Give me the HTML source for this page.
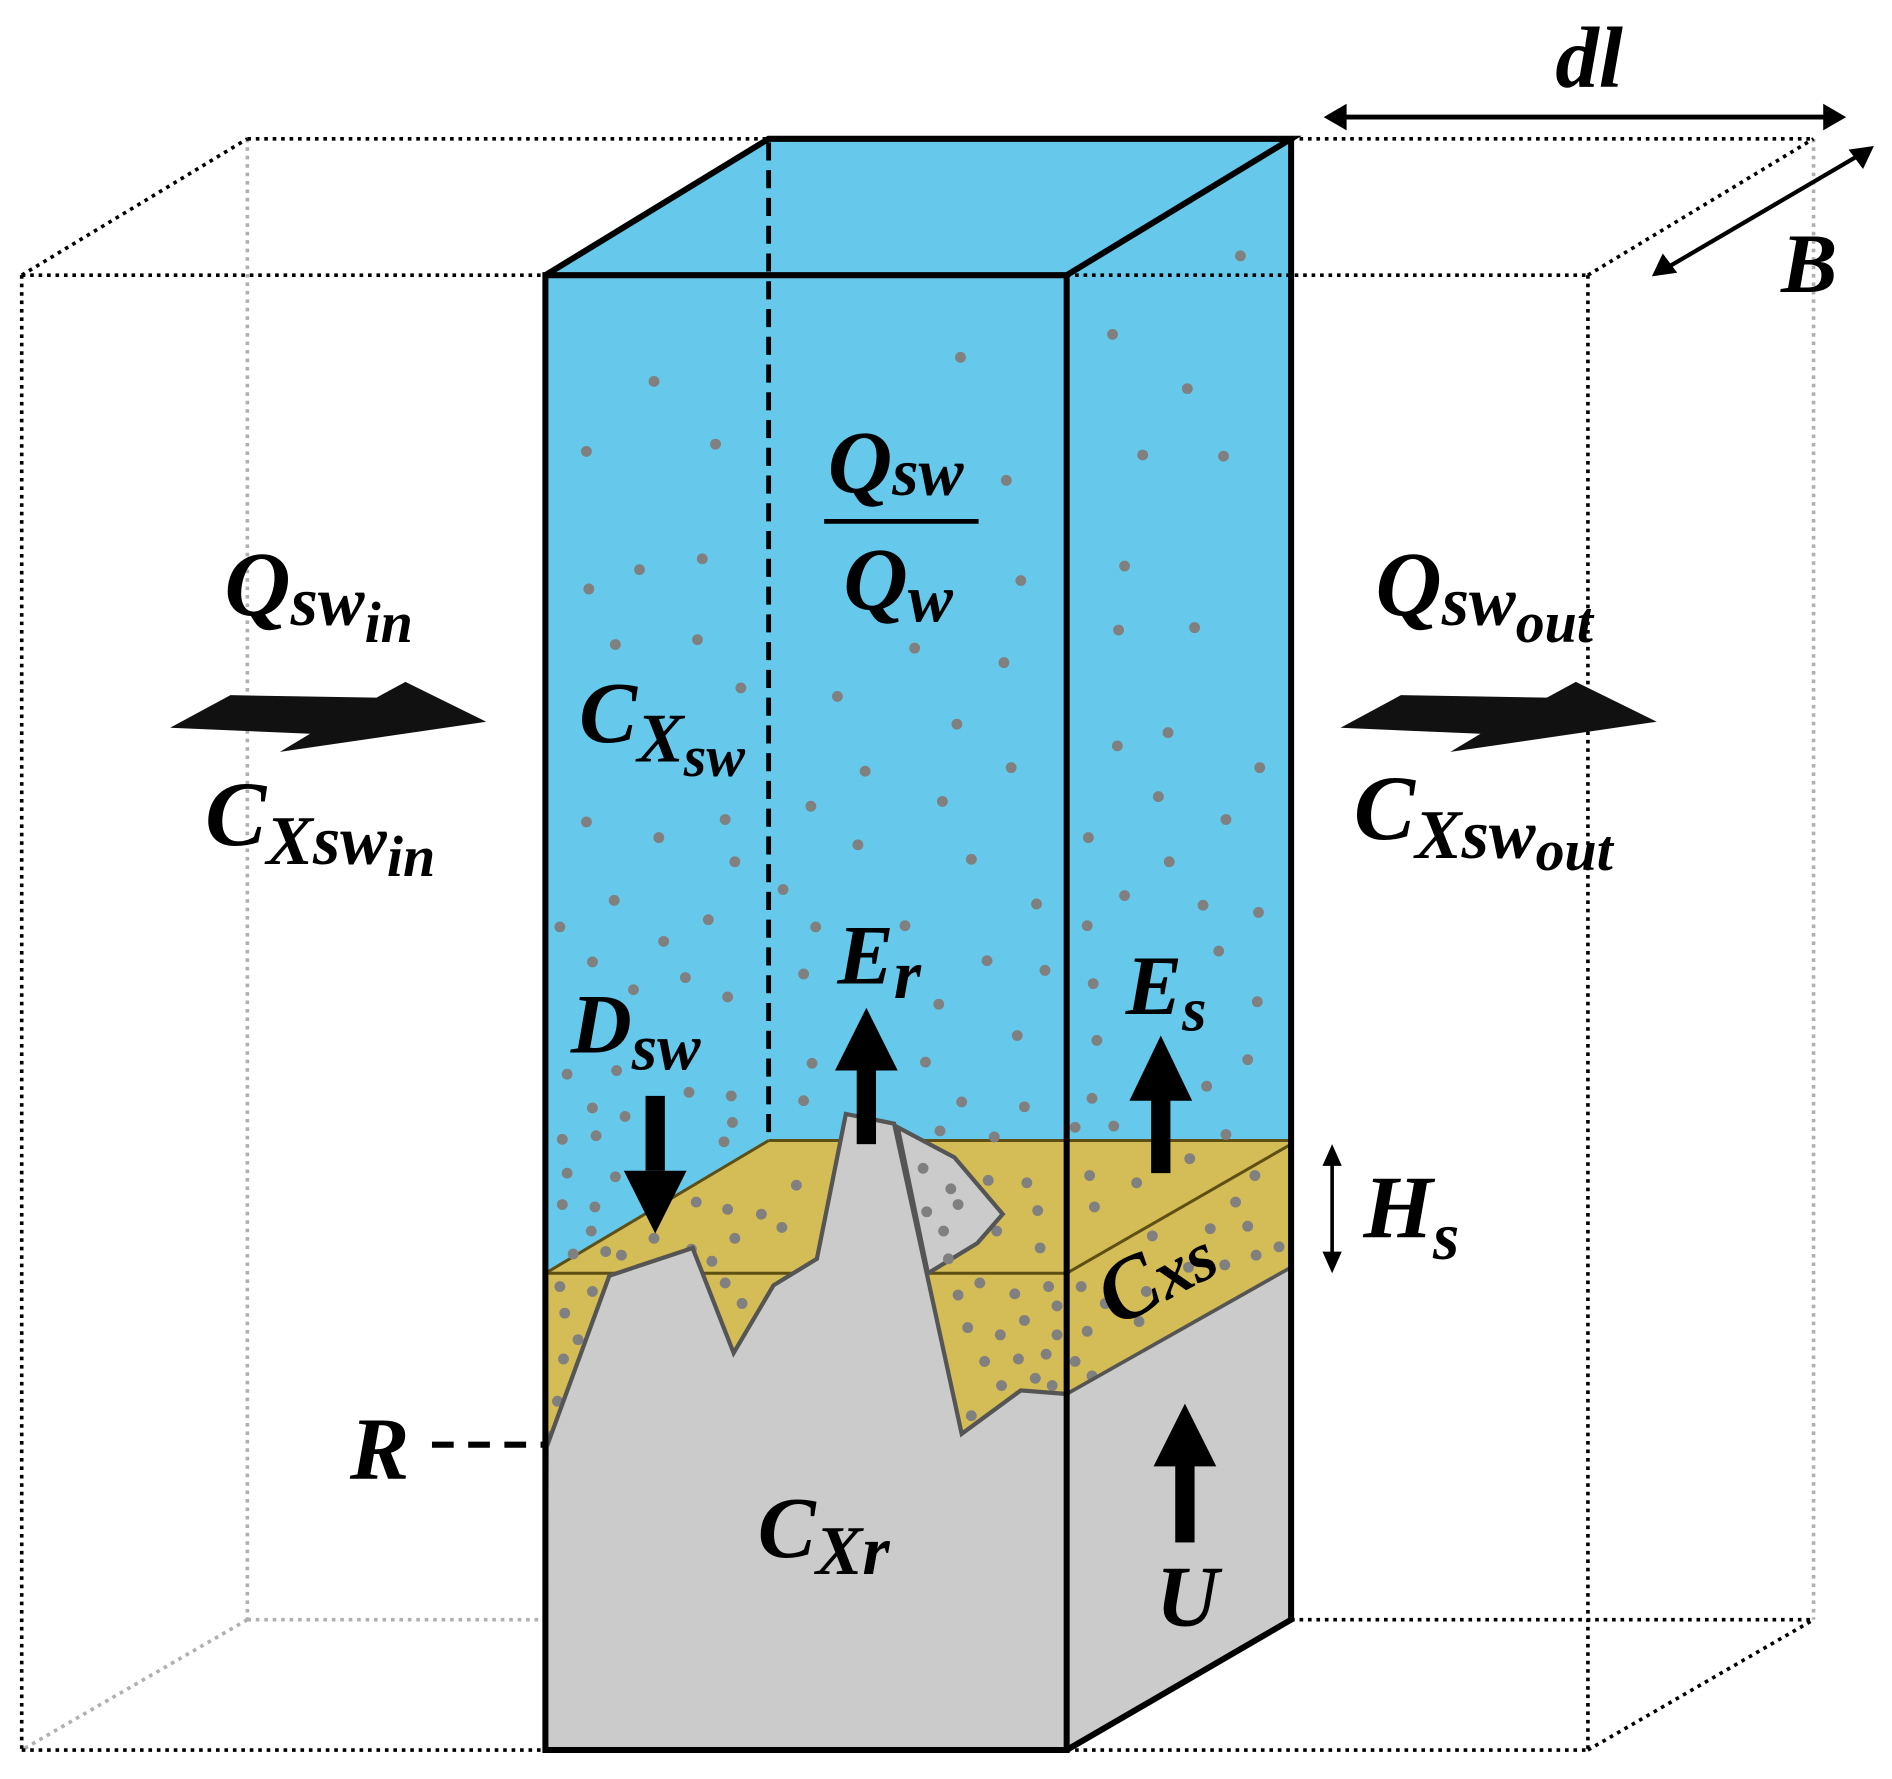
<!DOCTYPE html>
<html><head><meta charset="utf-8"><style>
html,body{margin:0;padding:0;background:#fff;}
svg{display:block;}
text{font-family:"Liberation Serif",serif;font-weight:bold;font-style:italic;fill:#000;}
</style></head><body>
<svg width="1892" height="1779" viewBox="0 0 1568 1474" preserveAspectRatio="none" xmlns="http://www.w3.org/2000/svg">
<g fill="none" stroke="#b0b0b0" stroke-width="3" stroke-dasharray="3,4">
<line x1="205" y1="115" x2="205" y2="1342"/>
<line x1="205" y1="1342" x2="452" y2="1342"/>
<line x1="205" y1="1342" x2="18" y2="1450"/>
<line x1="1503" y1="115" x2="1503" y2="1342"/>
</g>
<g fill="none" stroke="#000" stroke-width="3" stroke-dasharray="3,4">
<line x1="18" y1="228" x2="18" y2="1450"/>
<line x1="18" y1="1450" x2="452" y2="1450"/>
<line x1="884" y1="1450" x2="1316" y2="1450"/>
<line x1="1316" y1="228" x2="1316" y2="1450"/>
<line x1="1316" y1="1450" x2="1503" y2="1342"/>
<line x1="1070" y1="1342" x2="1503" y2="1342"/>
<line x1="18" y1="228" x2="205" y2="115"/>
<line x1="205" y1="115" x2="637" y2="115"/>
<line x1="1070" y1="115" x2="1503" y2="115"/>
<line x1="1316" y1="228" x2="1503" y2="115"/>
<line x1="18" y1="228" x2="452" y2="228"/>
<line x1="884" y1="228" x2="1316" y2="228"/>
</g>
<polygon points="452,228 637,115 1070,115 1070,1342 884,1450 452,1450" fill="#66C9EC"/>
<line x1="884" y1="228" x2="1070" y2="228" stroke="#000" stroke-width="3" stroke-dasharray="3,4"/>
<polygon points="452,1055 637,945 1070,945 1070,1050 884,1155 884,1450 452,1450" fill="#D4BC56"/>
<line x1="637" y1="945" x2="1070" y2="945" stroke="#5e4f14" stroke-width="2.5"/>
<line x1="452" y1="1055" x2="637" y2="945" stroke="#5e4f14" stroke-width="2.5"/>
<line x1="452" y1="1055" x2="884" y2="1055" stroke="#5e4f14" stroke-width="2.5"/>
<line x1="884" y1="1055" x2="1070" y2="948" stroke="#5e4f14" stroke-width="2.5"/>
<g fill="#808080">
<circle cx="542" cy="316" r="4.5"/><circle cx="796" cy="296" r="4.5"/><circle cx="922" cy="277" r="4.5"/><circle cx="984" cy="322" r="4.5"/><circle cx="1028" cy="212" r="4.5"/>
<circle cx="486" cy="374" r="4.5"/><circle cx="593" cy="368" r="4.5"/><circle cx="834" cy="398" r="4.5"/><circle cx="947" cy="377" r="4.5"/><circle cx="1014" cy="378" r="4.5"/>
<circle cx="488" cy="488" r="4.5"/><circle cx="530" cy="472" r="4.5"/><circle cx="582" cy="463" r="4.5"/><circle cx="846" cy="481" r="4.5"/><circle cx="932" cy="469" r="4.5"/><circle cx="927" cy="522" r="4.5"/><circle cx="990" cy="520" r="4.5"/>
<circle cx="510" cy="534" r="4.5"/><circle cx="578" cy="530" r="4.5"/><circle cx="758" cy="537" r="4.5"/><circle cx="832" cy="549" r="4.5"/><circle cx="614" cy="570" r="4.5"/><circle cx="694" cy="577" r="4.5"/><circle cx="793" cy="600" r="4.5"/>
<circle cx="926" cy="618" r="4.5"/><circle cx="968" cy="607" r="4.5"/><circle cx="1044" cy="636" r="4.5"/><circle cx="717" cy="639" r="4.5"/><circle cx="838" cy="636" r="4.5"/>
<circle cx="486" cy="681" r="4.5"/><circle cx="546" cy="694" r="4.5"/><circle cx="601" cy="679" r="4.5"/><circle cx="672" cy="668" r="4.5"/><circle cx="781" cy="664" r="4.5"/><circle cx="960" cy="660" r="4.5"/><circle cx="1016" cy="679" r="4.5"/>
<circle cx="609" cy="714" r="4.5"/><circle cx="711" cy="700" r="4.5"/><circle cx="805" cy="712" r="4.5"/><circle cx="902" cy="694" r="4.5"/><circle cx="969" cy="714" r="4.5"/>
<circle cx="509" cy="746" r="4.5"/><circle cx="649" cy="737" r="4.5"/><circle cx="859" cy="749" r="4.5"/><circle cx="932" cy="742" r="4.5"/><circle cx="997" cy="750" r="4.5"/><circle cx="1043" cy="756" r="4.5"/>
<circle cx="464" cy="768" r="4.5"/><circle cx="550" cy="780" r="4.5"/><circle cx="587" cy="762" r="4.5"/><circle cx="676" cy="768" r="4.5"/><circle cx="750" cy="767" r="4.5"/><circle cx="818" cy="796" r="4.5"/><circle cx="901" cy="767" r="4.5"/><circle cx="1010" cy="788" r="4.5"/>
<circle cx="491" cy="797" r="4.5"/><circle cx="525" cy="820" r="4.5"/><circle cx="568" cy="810" r="4.5"/><circle cx="603" cy="826" r="4.5"/><circle cx="666" cy="807" r="4.5"/><circle cx="778" cy="832" r="4.5"/><circle cx="866" cy="804" r="4.5"/><circle cx="906" cy="815" r="4.5"/><circle cx="1042" cy="830" r="4.5"/>
<circle cx="470" cy="890" r="4.5"/><circle cx="511" cy="887" r="4.5"/><circle cx="673" cy="881" r="4.5"/><circle cx="767" cy="880" r="4.5"/><circle cx="843" cy="858" r="4.5"/><circle cx="909" cy="862" r="4.5"/><circle cx="1034" cy="878" r="4.5"/>
<circle cx="491" cy="918" r="4.5"/><circle cx="571" cy="905" r="4.5"/><circle cx="606" cy="908" r="4.5"/><circle cx="666" cy="912" r="4.5"/><circle cx="797" cy="913" r="4.5"/><circle cx="849" cy="917" r="4.5"/><circle cx="905" cy="910" r="4.5"/><circle cx="1000" cy="900" r="4.5"/>
<circle cx="466" cy="944" r="4.5"/><circle cx="494" cy="941" r="4.5"/><circle cx="518" cy="925" r="4.5"/><circle cx="607" cy="930" r="4.5"/><circle cx="600" cy="946" r="4.5"/><circle cx="779" cy="937" r="4.5"/><circle cx="824" cy="942" r="4.5"/><circle cx="891" cy="934" r="4.5"/><circle cx="923" cy="933" r="4.5"/><circle cx="1016" cy="940" r="4.5"/>
<circle cx="470" cy="972" r="4.5"/><circle cx="510" cy="975" r="4.5"/><circle cx="466" cy="998" r="4.5"/><circle cx="493" cy="1000" r="4.5"/><circle cx="490" cy="1020" r="4.5"/><circle cx="475" cy="1039" r="4.5"/><circle cx="502" cy="1037" r="4.5"/>
<circle cx="577" cy="996" r="4.5"/><circle cx="603" cy="1002" r="4.5"/><circle cx="631" cy="1006" r="4.5"/><circle cx="609" cy="1026" r="4.5"/><circle cx="648" cy="1017" r="4.5"/><circle cx="590" cy="1045" r="4.5"/><circle cx="660" cy="982" r="4.5"/><circle cx="573" cy="1035" r="4.5"/><circle cx="542" cy="1026" r="4.5"/><circle cx="515" cy="1040" r="4.5"/>
<circle cx="851" cy="980" r="4.5"/><circle cx="819" cy="978" r="4.5"/><circle cx="860" cy="1003" r="4.5"/><circle cx="826" cy="1020" r="4.5"/><circle cx="862" cy="1034" r="4.5"/><circle cx="903" cy="974" r="4.5"/><circle cx="942" cy="980" r="4.5"/><circle cx="986" cy="960" r="4.5"/><circle cx="907" cy="1000" r="4.5"/><circle cx="1040" cy="974" r="4.5"/><circle cx="955" cy="1024" r="4.5"/><circle cx="1003" cy="1018" r="4.5"/><circle cx="1024" cy="996" r="4.5"/>
<circle cx="464" cy="1066" r="4.5"/><circle cx="491" cy="1070" r="4.5"/><circle cx="468" cy="1088" r="4.5"/><circle cx="479" cy="1110" r="4.5"/><circle cx="467" cy="1126" r="4.5"/><circle cx="462" cy="1161" r="4.5"/><circle cx="457" cy="1190" r="4.5"/>
<circle cx="601" cy="1063" r="4.5"/><circle cx="615" cy="1080" r="4.5"/>
<circle cx="794" cy="1073" r="4.5"/><circle cx="812" cy="1063" r="4.5"/><circle cx="841" cy="1072" r="4.5"/><circle cx="869" cy="1066" r="4.5"/><circle cx="802" cy="1100" r="4.5"/><circle cx="829" cy="1106" r="4.5"/><circle cx="849" cy="1094" r="4.5"/><circle cx="876" cy="1082" r="4.5"/><circle cx="816" cy="1128" r="4.5"/><circle cx="844" cy="1126" r="4.5"/><circle cx="867" cy="1122" r="4.5"/><circle cx="876" cy="1106" r="4.5"/><circle cx="830" cy="1148" r="4.5"/><circle cx="858" cy="1142" r="4.5"/><circle cx="872" cy="1148" r="4.5"/><circle cx="805" cy="1173" r="4.5"/>
<circle cx="896" cy="1066" r="4.5"/><circle cx="916" cy="1080" r="4.5"/><circle cx="901" cy="1103" r="4.5"/><circle cx="891" cy="1128" r="4.5"/><circle cx="905" cy="1140" r="4.5"/><circle cx="944" cy="1095" r="4.5"/><circle cx="1015" cy="1048" r="4.5"/><circle cx="1041" cy="1040" r="4.5"/><circle cx="1034" cy="1016" r="4.5"/><circle cx="1060" cy="1033" r="4.5"/><circle cx="950" cy="1070" r="4.5"/><circle cx="985" cy="1050" r="4.5"/>
</g>
<polygon points="453,1199 505,1057 574,1034 608,1121 641,1065 677,1043 701,923 741,931 797,1188 846,1152 884,1155 884,1450 452,1450" fill="#CBCBCB" stroke="#555" stroke-width="3.5" stroke-linejoin="miter"/>
<polygon points="744,934 791,959 831,1006 810,1030 769,1055" fill="#CBCBCB" stroke="#555" stroke-width="3.5"/>
<g fill="#808080"><circle cx="765" cy="968" r="4.5"/><circle cx="788" cy="985" r="4.5"/><circle cx="768" cy="1004" r="4.5"/><circle cx="794" cy="998" r="4.5"/><circle cx="782" cy="1020" r="4.5"/><circle cx="786" cy="1043" r="4.5"/></g>
<polygon points="884,1155 1070,1050 1070,1342 884,1450" fill="#CBCBCB"/>
<line x1="884" y1="1155" x2="1070" y2="1050" stroke="#555" stroke-width="3"/>
<g fill="none" stroke="#000" stroke-width="5" stroke-linejoin="miter">
<polygon points="452,228 884,228 884,1450 452,1450"/>
<polyline points="452,228 637,115 1070,115 884,228"/>
<polyline points="1070,115 1070,1342 884,1450"/>
</g>
<line x1="637" y1="118" x2="637" y2="945" stroke="#000" stroke-width="4" stroke-dasharray="15,8"/>
<line x1="358" y1="1197" x2="452" y2="1197" stroke="#000" stroke-width="5" stroke-dasharray="18,12"/>
<polygon points="141,603 191,576 312,578 336,565 403,598 232,623 257,608" fill="#111"/>
<polygon points="1111,603 1161,576 1282,578 1306,565 1373,598 1202,623 1227,608" fill="#111"/>
<g fill="#000">
<rect x="535" y="908" width="16" height="62"/><polygon points="517,970 569,970 543,1022"/>
<rect x="710" y="885" width="16" height="63"/><polygon points="692,887 744,887 718,835"/>
<rect x="954" y="910" width="16" height="62"/><polygon points="936,912 988,912 962,858"/>
<rect x="974" y="1213" width="16" height="65"/><polygon points="956,1215 1008,1215 982,1163"/>
</g>
<g stroke="#000" stroke-width="4" fill="#000">
<line x1="1110" y1="97" x2="1515" y2="97"/>
<line x1="1104" y1="960" x2="1104" y2="1043" stroke-width="3"/>
<line x1="1383" y1="221" x2="1540" y2="129" stroke-width="3.5"/>
</g>
<g fill="#000">
<polygon points="1097,97 1116,86 1116,108"/><polygon points="1530,97 1511,86 1511,108"/>
<polygon points="1104,948 1096,966 1112,966"/><polygon points="1104,1055 1096,1037 1112,1037"/>
<polygon points="1369,229 1378,210 1390,226"/><polygon points="1553,121 1544,140 1532,124"/>
</g>
<line x1="683" y1="432" x2="811" y2="432" stroke="#000" stroke-width="4"/>
<text x="1289" y="72" font-size="72">dl</text>
<text x="1476" y="242" font-size="70">B</text>
<text x="186" y="510" font-size="76">Q<tspan font-size="58" dy="8">sw</tspan><tspan font-size="48" dy="14">in</tspan></text>
<text x="170" y="700" font-size="76">C<tspan font-size="58" dy="16">Xsw</tspan><tspan font-size="48" dy="10">in</tspan></text>
<text x="1140" y="510" font-size="76">Q<tspan font-size="58" dy="8">sw</tspan><tspan font-size="48" dy="14">out</tspan></text>
<text x="1122" y="695" font-size="76">C<tspan font-size="58" dy="16">Xsw</tspan><tspan font-size="48" dy="10">out</tspan></text>
<text x="686" y="408" font-size="74">Q<tspan font-size="56" dy="2">sw</tspan></text>
<text x="699" y="505" font-size="74">Q<tspan font-size="56" dy="10">w</tspan></text>
<text x="480" y="615" font-size="72">C<tspan font-size="58" dy="16">X</tspan><tspan font-size="48" dy="12">sw</tspan></text>
<text x="694" y="815" font-size="70">E<tspan font-size="58" dy="12">r</tspan></text>
<text x="933" y="840" font-size="70">E<tspan font-size="52" dy="14">s</tspan></text>
<text x="473" y="872" font-size="70">D<tspan font-size="54" dy="14">sw</tspan></text>
<text x="1130" y="1025" font-size="74">H<tspan font-size="56" dy="18">s</tspan></text>
<text x="290" y="1225" font-size="74">R</text>
<text x="628" y="1290" font-size="72">C<tspan font-size="58" dy="14">Xr</tspan></text>
<text x="958" y="1347" font-size="72">U</text>
<text x="0" y="0" font-size="72" font-style="normal" transform="translate(925,1100) rotate(-28)">C<tspan font-size="58">xs</tspan></text>
</svg>
</body></html>
